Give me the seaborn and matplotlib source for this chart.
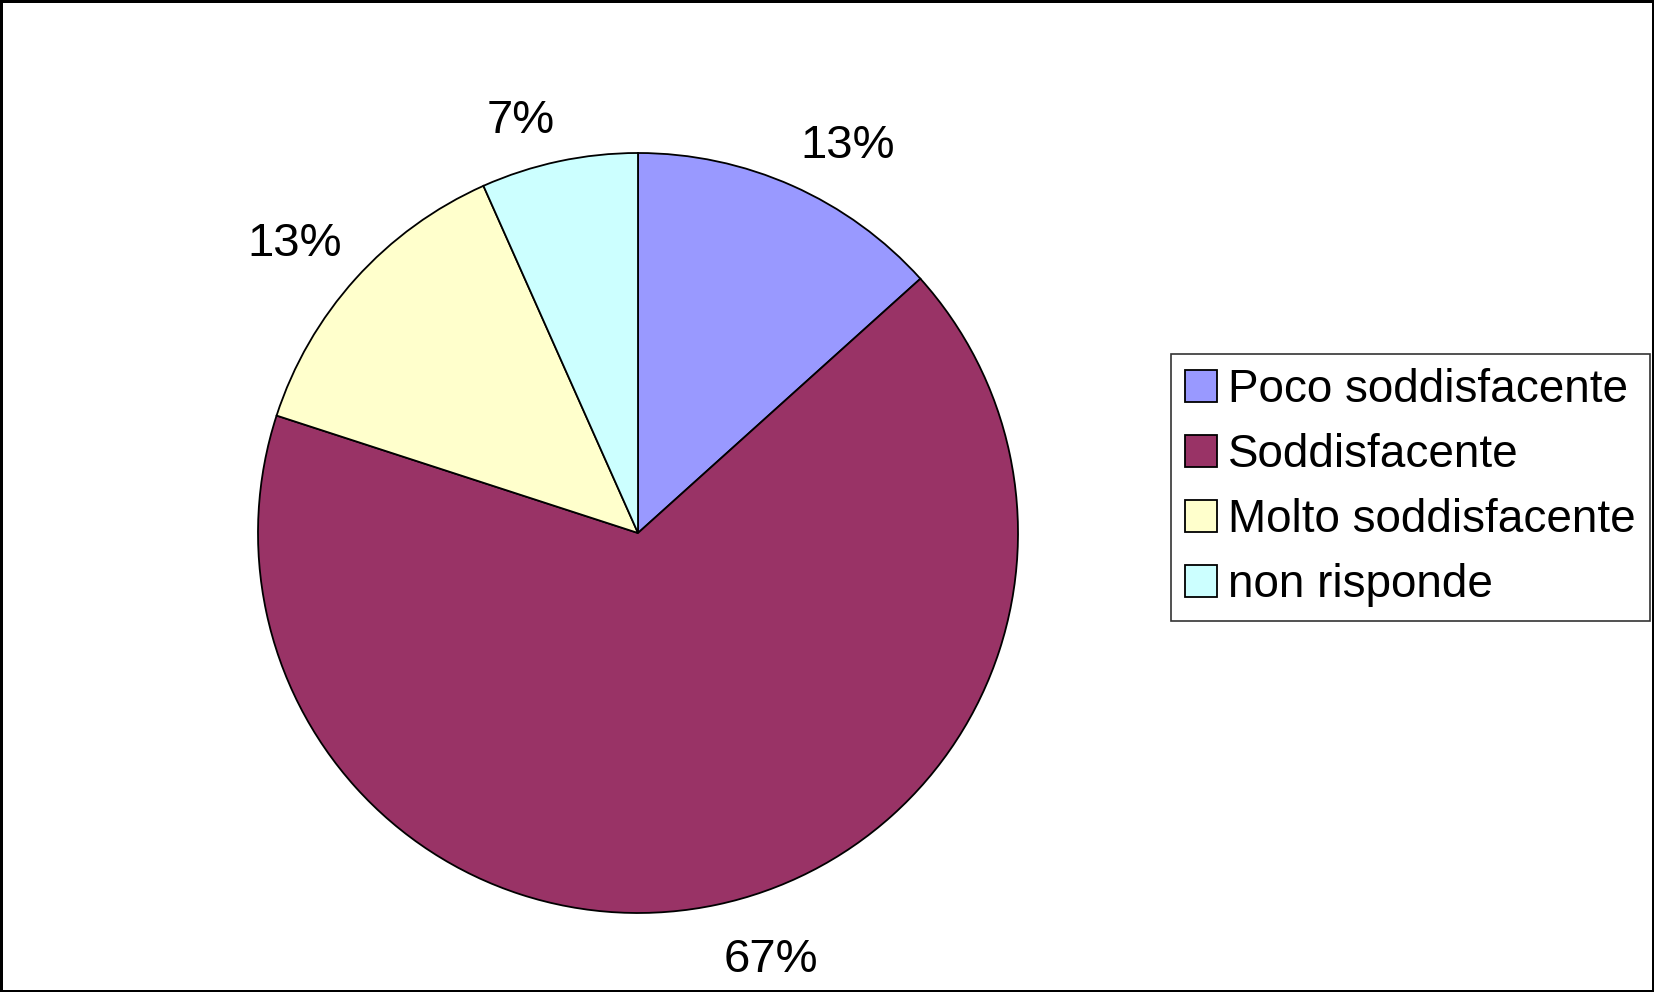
import numpy as np
import matplotlib
matplotlib.use('Agg')
import matplotlib.pyplot as plt
import seaborn as sns

categories = ['Poco soddisfacente', 'Soddisfacente', 'Molto soddisfacente', 'non risponde']
counts = [2, 10, 2, 1]
colors = ['#9999FF', '#993366', '#FFFFCC', '#CCFFFF']

def make_plot():
    sns.set_theme(style='white')
    plt.rcParams['font.family'] = ['Liberation Sans', 'DejaVu Sans']
    plt.rcParams['text.color'] = 'black'

    fig = plt.figure(figsize=(16.54, 9.92), dpi=100)
    fig.patch.set_edgecolor('black')
    fig.patch.set_linewidth(2.5)

    # square axes holding the pie, in pixel terms: center (638, 533), radius 380
    cx, cy, r = 638, 533, 380
    W, H = 1654, 992
    ax = fig.add_axes([(cx - r) / W, (H - cy - r) / H, 2 * r / W, 2 * r / H])

    wedges, _, autotexts = ax.pie(counts,
                                  colors        = colors,
                                  startangle    = 90,
                                  counterclock  = False,
                                  autopct       = lambda p: '%d%%' % round(p),
                                  wedgeprops    = dict(edgecolor='black', linewidth=1.3),
                                  textprops     = dict(fontsize=34, color='black'))
    # Excel-like placement: label box touches a point just outside the rim
    for w, t in zip(wedges, autotexts):
        mid = np.deg2rad((w.theta1 + w.theta2) / 2)
        d = 1.05 if np.sin(mid) > 0 else 1.09
        x, y = d * np.cos(mid), d * np.sin(mid)
        t.set_position((x, y))
        t.set_ha('left' if x > 0 else 'right')
        t.set_va('bottom' if y > 0 else 'top')
        t.set_clip_on(False)
    ax.set_xlim(-1, 1)
    ax.set_ylim(-1, 1)
    ax.set_aspect('equal')
    ax.axis('off')

    leg = fig.legend(wedges, categories,
                     loc            = 'upper left',
                     bbox_to_anchor = (1171 / W, 1 - 354 / H),
                     fontsize       = 33,
                     frameon        = True,
                     fancybox       = False,
                     edgecolor      = 'black',
                     handlelength   = 0.7,
                     handleheight   = 0.7,
                     handletextpad  = 0.25,
                     labelspacing   = 0.46,
                     borderpad      = 0.3,
                     borderaxespad  = 0)
    leg.get_frame().set_linewidth(1.2)
    for txt in leg.get_texts():
        txt.set_color('black')

    fig.savefig('out.png', dpi=100, edgecolor=fig.get_edgecolor())

if __name__ == '__main__':
    make_plot()
